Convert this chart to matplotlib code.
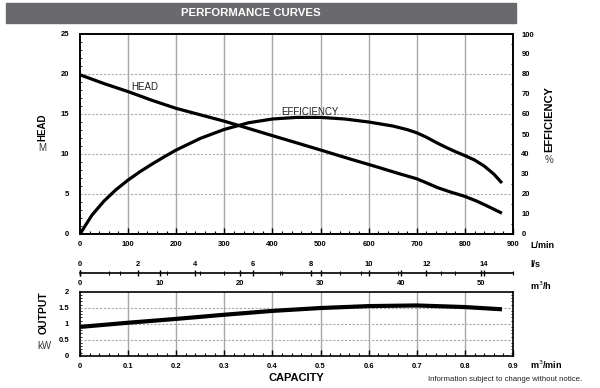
import matplotlib
matplotlib.use("Agg")
import matplotlib.pyplot as plt
from matplotlib.patches import Rectangle
from matplotlib.ticker import MultipleLocator

plt.rcParams['font.family'] = ['Liberation Sans', 'DejaVu Sans']

# ---- data ----
head_flow = [0, 50, 100, 150, 200, 250, 300, 350, 394, 450, 500, 560, 622, 660, 700, 720, 743, 770, 800, 825, 843, 860, 877]
head_m = [19.9, 18.8, 17.8, 16.7, 15.7, 14.9, 14.1, 13.2, 12.4, 11.4, 10.5, 9.4, 8.3, 7.6, 6.9, 6.4, 5.8, 5.25, 4.7, 4.1, 3.6, 3.1, 2.6]

eff_flow = [0, 25, 50, 75, 100, 125, 150, 175, 200, 250, 300, 350, 400, 450, 500, 550, 600, 650, 680, 700, 720, 740, 760, 780, 800, 820, 840, 860, 877]
eff_pct = [0, 9.5, 16.5, 22.2, 27, 31.2, 35, 38.6, 42, 47.8, 52.3, 55.6, 57.5, 58.3, 58.3, 57.5, 56, 54, 52.2, 50.6, 48.4, 45.8, 43.4, 41.2, 39.2, 37, 34, 30, 25.5]

out_flow = [0, 0.1, 0.2, 0.3, 0.4, 0.5, 0.6, 0.7, 0.8, 0.877]
out_kw = [0.9, 1.03, 1.15, 1.28, 1.40, 1.49, 1.55, 1.57, 1.52, 1.45]

lmin_ticks = [0, 100, 200, 300, 400, 500, 600, 700, 800, 900]
head_ticks = [0, 5, 10, 15, 20, 25]
eff_ticks = [0, 10, 20, 30, 40, 50, 60, 70, 80, 90, 100]
ls_ticks = [0, 2, 4, 6, 8, 10, 12, 14]
m3h_ticks = [0, 10, 20, 30, 40, 50]
m3min_ticks = [0, 0.1, 0.2, 0.3, 0.4, 0.5, 0.6, 0.7, 0.8, 0.9]
m3min_labels = ['0', '0.1', '0.2', '0.3', '0.4', '0.5', '0.6', '0.7', '0.8', '0.9']
kw_ticks = [0, 0.5, 1, 1.5, 2]
kw_labels = ['0', '0.5', '1', '1.5', '2']

W, H = 600, 388
fig = plt.figure(figsize=(6, 3.88), dpi=100)


def fx(px):
    return px / W


def fy(py):
    return 1 - py / H


GRID = '#a8a8a8'
TS = 5.5


def bold_ticks(a):
    for lab in a.get_xticklabels(which='both') + a.get_yticklabels(which='both'):
        lab.set_fontweight('bold')
    a.tick_params(labelsize=TS)


# title bar
fig.patches.append(Rectangle((fx(6), fy(23.3)), fx(515.7) - fx(6), fy(2.7) - fy(23.3),
                             transform=fig.transFigure, color='#6a6a6e', zorder=0))
fig.text(fx(251), fy(13.3), 'PERFORMANCE CURVES', color='white', fontsize=8.2,
         fontweight='bold', ha='center', va='center')

L, R = 80, 513
# ---- main axes ----
ax = fig.add_axes([fx(L), fy(234), fx(R) - fx(L), fy(34) - fy(234)])
ax.set_xlim(0, 900)
ax.set_ylim(0, 25)
ax.set_xticks(lmin_ticks)
ax.set_yticks(head_ticks)
ax.xaxis.set_minor_locator(MultipleLocator(20))
ax.yaxis.set_minor_locator(MultipleLocator(1))
ax.tick_params(axis='both', which='both', direction='in', top=False, right=False)
ax.tick_params(axis='x', which='major', length=4, width=1, pad=5)
ax.tick_params(axis='x', which='minor', length=2.5, width=0.8)
ax.tick_params(axis='y', which='major', length=0, pad=8)
ax.tick_params(axis='y', which='minor', length=1.5, width=0.6)
bold_ticks(ax)
for v in lmin_ticks[1:-1]:
    ax.axvline(v, color=GRID, lw=1.0, zorder=1)
for v in head_ticks[1:-1]:
    ax.axhline(v, color=GRID, lw=0.8, ls=(0, (2, 1.5)), zorder=1)
for s in ax.spines.values():
    s.set_linewidth(1.2)
ax.plot(head_flow, head_m, color='black', lw=2.3, solid_capstyle='butt',
        solid_joinstyle='round', zorder=3)
ax.text(107, 18.4, 'HEAD', fontsize=7, ha='left', va='center', color='#222222')
ax.text(419, 15.3, 'EFFICIENCY', fontsize=7, ha='left', va='center', color='#222222')

ax_e = ax.twinx()
ax_e.set_ylim(0, 100)
ax_e.set_yticks(eff_ticks)
ax_e.yaxis.set_minor_locator(MultipleLocator(5))
ax_e.tick_params(axis='y', which='major', length=0, pad=6)
ax_e.tick_params(axis='y', which='minor', direction='in', length=1.5, width=0.6)
bold_ticks(ax_e)
for s in ax_e.spines.values():
    s.set_linewidth(1.2)
ax_e.plot(eff_flow, eff_pct, color='black', lw=2.3, solid_capstyle='butt',
          solid_joinstyle='round', zorder=3)

fig.text(fx(42.7), fy(127), 'HEAD', rotation=90, fontsize=7, fontweight='bold',
         ha='center', va='center')
fig.text(fx(42.7), fy(148), 'M', fontsize=7, ha='center', va='center', color='#333333')
fig.text(fx(549), fy(118.7), 'EFFICIENCY', rotation=90, fontsize=8, fontweight='bold',
         ha='center', va='center')
fig.text(fx(549), fy(160), '%', fontsize=7, ha='center', va='center', color='#333333')
fig.text(fx(530), fy(245.5), 'L/min', fontsize=6.5, fontweight='bold', ha='left', va='center')

# ---- l/s scale (labels above line) ----
pos_line = [fx(L), fy(273.3), fx(R) - fx(L), 0.0001]
ax_s = fig.add_axes(pos_line)
ax_s.set_xlim(0, 15)
ax_s.set_ylim(0, 1)
ax_s.set_yticks([])
for k in ['left', 'right', 'top']:
    ax_s.spines[k].set_visible(False)
ax_s.spines['bottom'].set_linewidth(1.2)
ax_s.set_xticks(ls_ticks)
ax_s.xaxis.set_minor_locator(MultipleLocator(1))
ax_s.tick_params(axis='x', which='both', bottom=True, top=False, labelbottom=False,
                 labeltop=True, direction='inout')
ax_s.tick_params(axis='x', which='major', length=5, width=1, pad=1.5)
ax_s.tick_params(axis='x', which='minor', length=3, width=0.8)
bold_ticks(ax_s)
ax_s.patch.set_visible(False)

# ---- m3/h scale (labels below line) ----
ax_h = fig.add_axes(pos_line, label='m3h')
ax_h.set_xlim(0, 54)
ax_h.set_ylim(0, 1)
ax_h.set_yticks([])
ax_h.set_xticks(m3h_ticks)
ax_h.xaxis.set_minor_locator(MultipleLocator(5))
ax_h.tick_params(axis='x', which='both', bottom=True, top=False, labelbottom=True,
                 labeltop=False, direction='inout')
ax_h.tick_params(axis='x', which='major', length=5, width=1, pad=2.5)
ax_h.tick_params(axis='x', which='minor', length=3, width=0.8)
bold_ticks(ax_h)
for k in ['left', 'right', 'top', 'bottom']:
    ax_h.spines[k].set_visible(False)
ax_h.patch.set_visible(False)

fig.text(fx(530), fy(264.5), 'l/s', fontsize=6.5, fontweight='bold', ha='left', va='center')
fig.text(fx(530), fy(286), 'm$^3$/h', fontsize=6.5, fontweight='bold', ha='left', va='center')

# ---- output axes ----
ax_o = fig.add_axes([fx(L), fy(355.7), fx(R) - fx(L), fy(291.7) - fy(355.7)])
ax_o.set_xlim(0, 0.9)
ax_o.set_ylim(0, 2)
ax_o.set_xticks(m3min_ticks)
ax_o.set_xticklabels(m3min_labels)
ax_o.set_yticks(kw_ticks)
ax_o.set_yticklabels(kw_labels)
ax_o.xaxis.set_minor_locator(MultipleLocator(0.02))
ax_o.yaxis.set_minor_locator(MultipleLocator(0.1))
ax_o.tick_params(axis='both', which='both', direction='in', top=False, right=True)
ax_o.tick_params(axis='x', which='major', length=4, width=1, pad=5)
ax_o.tick_params(axis='x', which='minor', length=2.5, width=0.8)
ax_o.tick_params(axis='y', which='major', length=0, pad=8)
ax_o.tick_params(axis='y', which='minor', length=1.5, width=0.6)
bold_ticks(ax_o)
for v in m3min_ticks[1:-1]:
    ax_o.axvline(v, color=GRID, lw=1.0, zorder=1)
for v in kw_ticks[1:-1]:
    ax_o.axhline(v, color=GRID, lw=0.8, ls=(0, (2, 1.5)), zorder=1)
for s in ax_o.spines.values():
    s.set_linewidth(1.2)
ax_o.plot(out_flow, out_kw, color='black', lw=3.0, solid_capstyle='butt',
          solid_joinstyle='round', zorder=3)

fig.text(fx(44), fy(313), 'OUTPUT', rotation=90, fontsize=7.5, fontweight='bold',
         ha='center', va='center')
fig.text(fx(44), fy(346), 'kW', fontsize=7, ha='center', va='center', color='#333333')
fig.text(fx(530), fy(365), 'm$^3$/min', fontsize=6.5, fontweight='bold', ha='left', va='center')
fig.text(fx(296), fy(378.3), 'CAPACITY', fontsize=8, fontweight='bold', ha='center', va='center')
fig.text(fx(428), fy(379.5), 'Information subject to change without notice.',
         fontsize=5.6, ha='left', va='center', color='#222222',
         family=['Liberation Sans Narrow', 'Liberation Sans', 'DejaVu Sans'])

fig.savefig('out.png', dpi=100)
